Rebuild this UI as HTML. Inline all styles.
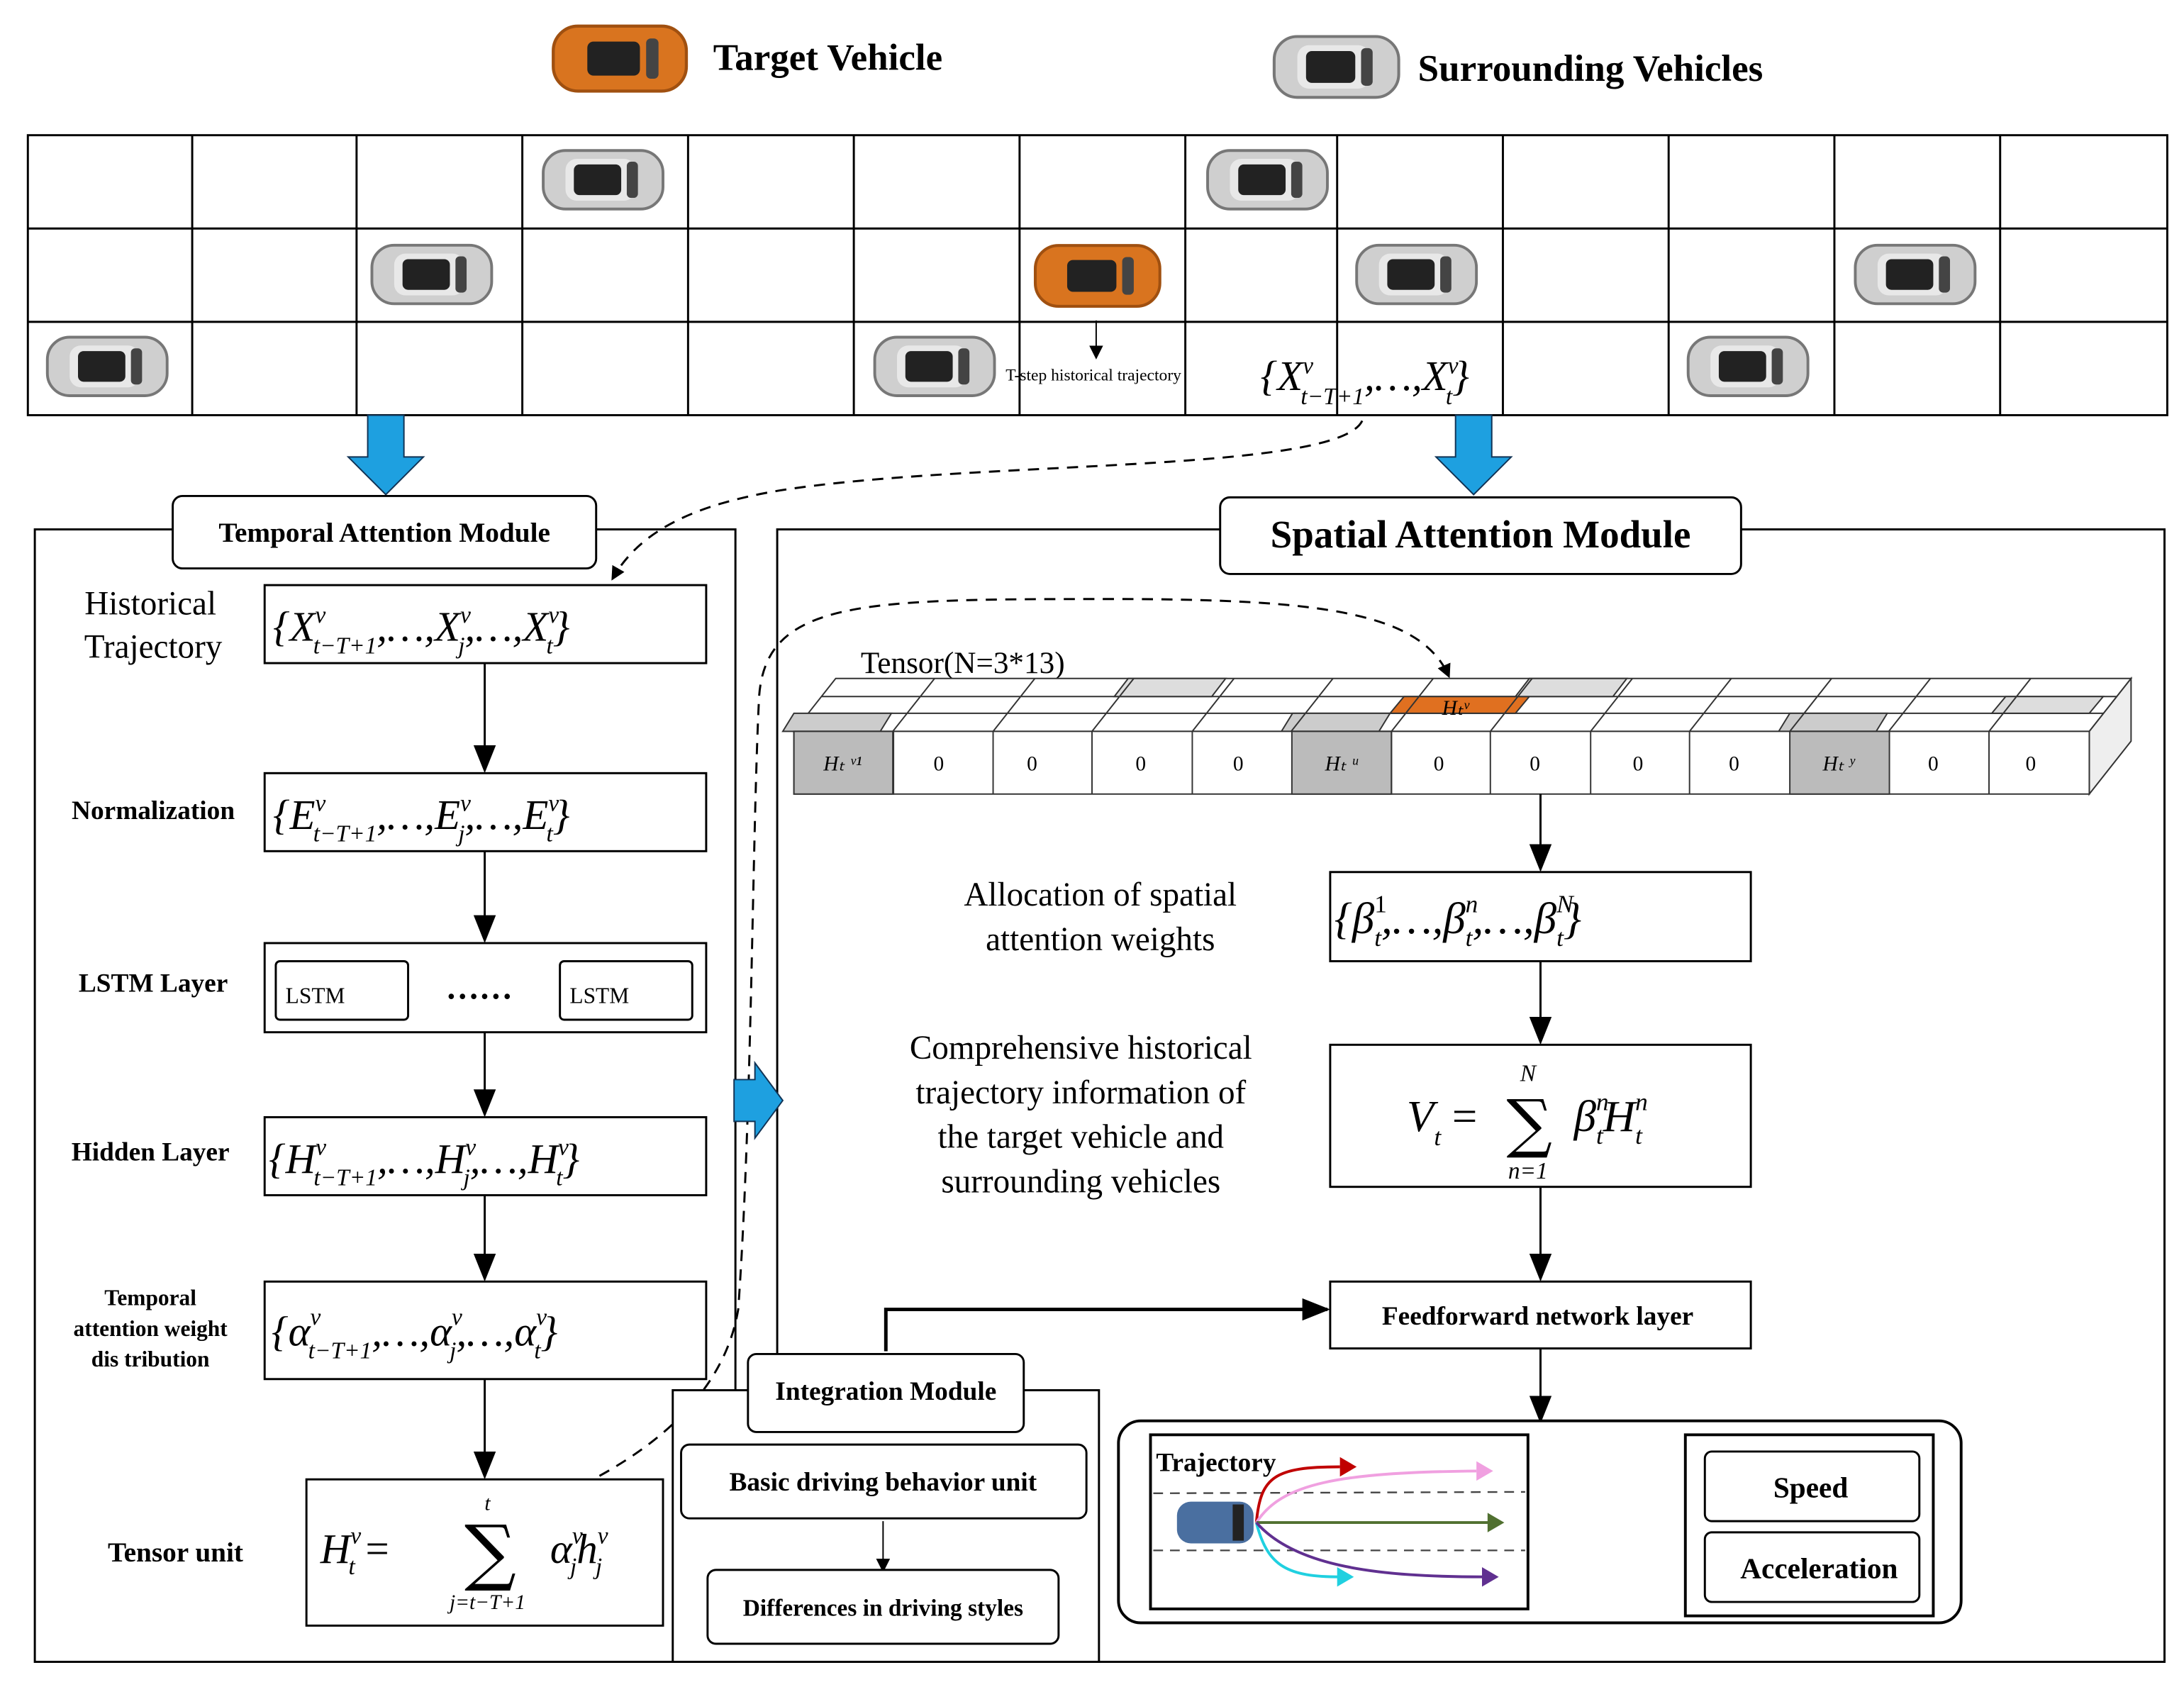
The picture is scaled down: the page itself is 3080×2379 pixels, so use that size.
<!DOCTYPE html>
<html><head><meta charset="utf-8"><style>html,body{margin:0;padding:0;background:#fff}svg{display:block}
.b{font-family:"Liberation Serif",serif;font-weight:bold}
.m{font-family:"Liberation Serif",serif;font-style:italic}
</style></head><body>
<svg width="3080" height="2379" viewBox="0 0 1568 1211" xmlns="http://www.w3.org/2000/svg">
<defs>
<symbol id="car" viewBox="0 0 90 50"><rect x="2" y="4" width="86" height="42" rx="16" fill="#cfcfcf" stroke="#777" stroke-width="2"/><rect x="18" y="10" width="50" height="30" rx="8" fill="#e8e8e8"/><rect x="24" y="14" width="34" height="22" rx="4" fill="#222"/><rect x="62" y="12" width="8" height="26" rx="3" fill="#444"/></symbol>
<symbol id="ocar" viewBox="0 0 90 50"><rect x="2" y="4" width="86" height="42" rx="16" fill="#d9741f" stroke="#a05010" stroke-width="2"/><rect x="24" y="14" width="34" height="22" rx="4" fill="#222"/><rect x="62" y="12" width="8" height="26" rx="3" fill="#444"/></symbol>
<marker id="ar" markerWidth="10" markerHeight="10" refX="8" refY="5" orient="auto" markerUnits="userSpaceOnUse"><path d="M0,0 L10,5 L0,10z" fill="#000"/></marker>
<marker id="arb" markerWidth="20" markerHeight="20" refX="18" refY="10" orient="auto" markerUnits="userSpaceOnUse"><path d="M0,2 L20,10 L0,18z" fill="#000"/></marker>
</defs>
<!-- legend -->
<use href="#ocar" x="395" y="14" width="100" height="56"/>
<text x="512" y="50" class="b" font-size="27">Target Vehicle</text>
<use href="#car" x="912" y="22" width="95" height="52"/>
<text x="1018" y="58" class="b" font-size="27">Surrounding Vehicles</text>
<!-- grid -->
<g stroke="#000" stroke-width="1.5" fill="none">
<rect x="20" y="97" width="1536" height="201"/>
<line x1="20" y1="164" x2="1556" y2="164"/><line x1="20" y1="231" x2="1556" y2="231"/>
<line x1="138" y1="97" x2="138" y2="298"/><line x1="256" y1="97" x2="256" y2="298"/><line x1="375" y1="97" x2="375" y2="298"/><line x1="494" y1="97" x2="494" y2="298"/><line x1="613" y1="97" x2="613" y2="298"/><line x1="732" y1="97" x2="732" y2="298"/><line x1="851" y1="97" x2="851" y2="298"/><line x1="960" y1="97" x2="960" y2="298"/><line x1="1079" y1="97" x2="1079" y2="298"/><line x1="1198" y1="97" x2="1198" y2="298"/><line x1="1317" y1="97" x2="1317" y2="298"/><line x1="1436" y1="97" x2="1436" y2="298"/>
</g>
<use href="#car" x="388" y="104" width="90" height="50"/>
<use href="#car" x="865" y="104" width="90" height="50"/>
<use href="#car" x="265" y="172" width="90" height="50"/>
<use href="#ocar" x="740" y="172" width="96" height="52"/>
<use href="#car" x="972" y="172" width="90" height="50"/>
<use href="#car" x="1330" y="172" width="90" height="50"/>
<use href="#car" x="32" y="238" width="90" height="50"/>
<use href="#car" x="626" y="238" width="90" height="50"/>
<use href="#car" x="1210" y="238" width="90" height="50"/>
<line x1="787" y1="230" x2="787" y2="256" stroke="#000" marker-end="url(#ar)"/>
<text x="722" y="273" font-family="Liberation Serif,serif" font-size="12">T-step historical trajectory</text>
<text x="905" y="280" class="m" font-size="30">{X<tspan font-size="17" dy="-12">v</tspan><tspan font-size="17" dx="-9" dy="22">t−T+1</tspan><tspan dy="-10">,…,X</tspan><tspan font-size="17" dy="-12">v</tspan><tspan font-size="17" dx="-9" dy="22">t</tspan><tspan dy="-10">}</tspan></text>
<!-- blue arrows -->
<path d="M264,298 h26 v30 h14 l-27,27 l-27,-27 h14z" fill="#1ea0e0" stroke="#135" stroke-width="1"/>
<path d="M1045,298 h26 v30 h14 l-27,27 l-27,-27 h14z" fill="#1ea0e0" stroke="#135" stroke-width="1"/>
<!-- module boxes -->
<g fill="none" stroke="#000" stroke-width="1.5">
<rect x="25" y="380" width="503" height="813"/>
<rect x="558" y="380" width="996" height="813"/>
</g>
<rect x="124" y="356" width="304" height="52" rx="7" fill="#fff" stroke="#000" stroke-width="1.5"/>
<text x="276" y="389" class="b" font-size="20" text-anchor="middle">Temporal Attention Module</text>
<rect x="876" y="357" width="374" height="55" rx="7" fill="#fff" stroke="#000" stroke-width="1.5"/>
<text x="1063" y="393" class="b" font-size="28" text-anchor="middle">Spatial Attention Module</text>
<!-- dashed curves -->
<path d="M978,302 C960,340 700,330 560,352 C500,362 460,380 440,415" fill="none" stroke="#000" stroke-width="1.5" stroke-dasharray="8,6" marker-end="url(#ar)"/>
<path d="M418,1066 C470,1040 520,1000 530,940 C540,800 540,600 545,500 C550,430 620,430 800,430 C950,430 1020,440 1040,485" fill="none" stroke="#000" stroke-width="1.5" stroke-dasharray="8,6" marker-end="url(#ar)"/>
<!-- left column -->
<g class="b" font-size="22"><text x="108" y="441" text-anchor="middle" font-weight="normal" font-size="24">Historical</text><text x="110" y="472" text-anchor="middle" font-weight="normal" font-size="24">Trajectory</text>
<text x="110" y="588" text-anchor="middle" font-size="19">Normalization</text>
<text x="110" y="712" text-anchor="middle" font-size="19">LSTM Layer</text>
<text x="108" y="833" text-anchor="middle" font-size="19">Hidden Layer</text>
<text x="108" y="937" text-anchor="middle" font-size="16">Temporal</text><text x="108" y="959" text-anchor="middle" font-size="16">attention weight</text><text x="108" y="981" text-anchor="middle" font-size="16">dis tribution</text>
<text x="126" y="1121" text-anchor="middle" font-size="20">Tensor unit</text></g>
<g fill="#fff" stroke="#000" stroke-width="1.5">
<rect x="190" y="420" width="317" height="56"/>
<rect x="190" y="555" width="317" height="56"/>
<rect x="190" y="677" width="317" height="64"/>
<rect x="190" y="802" width="317" height="56"/>
<rect x="190" y="920" width="317" height="70"/>
<rect x="220" y="1062" width="256" height="105"/>
<rect x="198" y="690" width="95" height="42" rx="3"/>
<rect x="402" y="690" width="95" height="42" rx="3"/>
</g>
<g class="m" font-size="30">
<text x="196" y="460">{X<tspan font-size="17" dy="-13">v</tspan><tspan font-size="17" dx="-9" dy="22">t−T+1</tspan><tspan dy="-9">,…,X</tspan><tspan font-size="17" dy="-13">v</tspan><tspan font-size="17" dx="-9" dy="22">j</tspan><tspan dy="-9">,…,X</tspan><tspan font-size="17" dy="-13">v</tspan><tspan font-size="17" dx="-9" dy="22">t</tspan><tspan dy="-9">}</tspan></text>
<text x="196" y="595">{E<tspan font-size="17" dy="-13">v</tspan><tspan font-size="17" dx="-9" dy="22">t−T+1</tspan><tspan dy="-9">,…,E</tspan><tspan font-size="17" dy="-13">v</tspan><tspan font-size="17" dx="-9" dy="22">j</tspan><tspan dy="-9">,…,E</tspan><tspan font-size="17" dy="-13">v</tspan><tspan font-size="17" dx="-9" dy="22">t</tspan><tspan dy="-9">}</tspan></text>
<text x="193" y="842">{H<tspan font-size="17" dy="-13">v</tspan><tspan font-size="17" dx="-9" dy="22">t−T+1</tspan><tspan dy="-9">,…,H</tspan><tspan font-size="17" dy="-13">v</tspan><tspan font-size="17" dx="-9" dy="22">j</tspan><tspan dy="-9">,…,H</tspan><tspan font-size="17" dy="-13">v</tspan><tspan font-size="17" dx="-9" dy="22">t</tspan><tspan dy="-9">}</tspan></text>
<text x="195" y="966">{α<tspan font-size="17" dy="-15">v</tspan><tspan font-size="17" dx="-9" dy="24">t−T+1</tspan><tspan dy="-9">,…,α</tspan><tspan font-size="17" dy="-15">v</tspan><tspan font-size="17" dx="-9" dy="24">j</tspan><tspan dy="-9">,…,α</tspan><tspan font-size="17" dy="-15">v</tspan><tspan font-size="17" dx="-9" dy="24">t</tspan><tspan dy="-9">}</tspan></text>
<text x="230" y="1122">H<tspan font-size="17" dy="-14">v</tspan><tspan font-size="17" dx="-9" dy="22">t</tspan><tspan dy="-8" font-style="normal"> = </tspan></text>
<text x="350" y="1084" font-size="15" text-anchor="middle">t</text>
<text x="350" y="1155" font-size="15" text-anchor="middle">j=t−T+1</text>
<text x="395" y="1122">α<tspan font-size="17" dy="-14">v</tspan><tspan font-size="17" dx="-9" dy="22">j</tspan><tspan dy="-8">h</tspan><tspan font-size="17" dy="-14">v</tspan><tspan font-size="17" dx="-9" dy="22">j</tspan></text>
</g>
<text x="352" y="1132" font-family="DejaVu Serif,serif" font-size="52" text-anchor="middle">∑</text>
<text x="205" y="720" font-family="Liberation Serif,serif" font-size="16">LSTM</text>
<text x="409" y="720" font-family="Liberation Serif,serif" font-size="16">LSTM</text>
<text x="344" y="717" class="b" font-size="24" text-anchor="middle">……</text>
<g stroke="#000" stroke-width="1.5">
<line x1="348" y1="476" x2="348" y2="553" marker-end="url(#arb)"/>
<line x1="348" y1="611" x2="348" y2="675" marker-end="url(#arb)"/>
<line x1="348" y1="741" x2="348" y2="800" marker-end="url(#arb)"/>
<line x1="348" y1="858" x2="348" y2="918" marker-end="url(#arb)"/>
<line x1="348" y1="990" x2="348" y2="1060" marker-end="url(#arb)"/>
</g>
<!-- center blue arrow -->
<path d="M527,775 h15 v-12 l20,27 l-20,27 v-12 h-15z" fill="#1ea0e0" stroke="#135" stroke-width="1"/>
<!-- tensor -->
<text x="618" y="483" font-family="Liberation Serif,serif" font-size="22">Tensor(N=3*13)</text>
<g stroke="#333" stroke-width="1" fill="#fff">
<path d="M570,525 L600,487 L1530,487 L1500,525z"/>
<path d="M1500,525 L1530,487 L1530,532 L1500,570z" fill="#eee"/>
<line x1="590" y1="500" x2="1520" y2="500"/><line x1="580" y1="512" x2="1510" y2="512"/>
<path d="M1008,500 L1098,500 L1088,512 L998,512z" fill="#e07020"/>
<path d="M570,512 L640,512 L632,525 L562,525z" fill="#ccc"/>
<path d="M928,512 L998,512 L990,525 L920,525z" fill="#ccc"/>
<path d="M1285,512 L1355,512 L1347,525 L1277,525z" fill="#ccc"/>
<path d="M810,487 L880,487 L870,500 L800,500z" fill="#ddd"/>
<path d="M1098,487 L1168,487 L1158,500 L1088,500z" fill="#ddd"/>
<path d="M1440,500 L1510,500 L1500,512 L1430,512z" fill="#ddd"/>
<rect x="570" y="525" width="930" height="45"/>
<rect x="570" y="525" width="71.5" height="45" fill="#bbb"/>
<rect x="927.5" y="525" width="71.5" height="45" fill="#bbb"/>
<rect x="1285" y="525" width="71.5" height="45" fill="#bbb"/>
</g>
<g stroke="#333" stroke-width="1">
<line x1="641" y1="525" x2="641" y2="570"/><line x1="713" y1="525" x2="713" y2="570"/><line x1="784" y1="525" x2="784" y2="570"/><line x1="856" y1="525" x2="856" y2="570"/><line x1="999" y1="525" x2="999" y2="570"/><line x1="1070" y1="525" x2="1070" y2="570"/><line x1="1142" y1="525" x2="1142" y2="570"/><line x1="1213" y1="525" x2="1213" y2="570"/><line x1="1428" y1="525" x2="1428" y2="570"/>
<line x1="641" y1="525" x2="671" y2="487"/><line x1="713" y1="525" x2="743" y2="487"/><line x1="784" y1="525" x2="814" y2="487"/><line x1="856" y1="525" x2="886" y2="487"/><line x1="927" y1="525" x2="957" y2="487"/><line x1="999" y1="525" x2="1029" y2="487"/><line x1="1070" y1="525" x2="1100" y2="487"/><line x1="1142" y1="525" x2="1172" y2="487"/><line x1="1213" y1="525" x2="1243" y2="487"/><line x1="1285" y1="525" x2="1315" y2="487"/><line x1="1356" y1="525" x2="1386" y2="487"/><line x1="1428" y1="525" x2="1458" y2="487"/>
</g>
<g font-family="Liberation Serif,serif" font-size="15" text-anchor="middle">
<text x="674" y="553">0</text><text x="741" y="553">0</text><text x="819" y="553">0</text><text x="889" y="553">0</text><text x="1033" y="553">0</text><text x="1102" y="553">0</text><text x="1176" y="553">0</text><text x="1245" y="553">0</text><text x="1388" y="553">0</text><text x="1458" y="553">0</text>
<text x="605" y="553" font-style="italic">Hₜ ᵛ¹</text><text x="963" y="553" font-style="italic">Hₜ ᵘ</text><text x="1320" y="553" font-style="italic">Hₜ ʸ</text><text x="1045" y="513" font-style="italic">Hₜᵛ</text>
</g>
<!-- right column -->
<line x1="1106" y1="570" x2="1106" y2="624" stroke="#000" stroke-width="1.5" marker-end="url(#arb)"/>
<g font-family="Liberation Serif,serif" font-size="24" text-anchor="middle">
<text x="790" y="650">Allocation of spatial</text><text x="790" y="682">attention weights</text>
<text x="776" y="760">Comprehensive historical</text><text x="776" y="792">trajectory information of</text><text x="776" y="824">the target vehicle and</text><text x="776" y="856">surrounding vehicles</text>
</g>
<g fill="#fff" stroke="#000" stroke-width="1.5">
<rect x="955" y="626" width="302" height="64"/>
<rect x="955" y="750" width="302" height="102"/>
<rect x="955" y="920" width="302" height="48"/>
</g>
<g class="m" font-size="32">
<text x="958" y="670">{β<tspan font-size="18" dy="-15" font-style="normal">1</tspan><tspan font-size="18" dx="-9" dy="24">t</tspan><tspan dy="-9">,…,β</tspan><tspan font-size="18" dy="-15">n</tspan><tspan font-size="18" dx="-9" dy="24">t</tspan><tspan dy="-9">,…,β</tspan><tspan font-size="18" dy="-15">N</tspan><tspan font-size="18" dx="-12" dy="24">t</tspan><tspan dy="-9">}</tspan></text>
<text x="1010" y="812">V<tspan font-size="18" dy="10">t</tspan><tspan dy="-10" font-style="normal"> = </tspan></text>
<text x="1130" y="812">β<tspan font-size="18" dy="-15">n</tspan><tspan font-size="18" dx="-9" dy="24">t</tspan><tspan dy="-9">H</tspan><tspan font-size="18" dy="-15">n</tspan><tspan font-size="18" dx="-9" dy="24">t</tspan></text>
<text x="1097" y="776" font-size="17" text-anchor="middle">N</text>
<text x="1097" y="846" font-size="17" text-anchor="middle">n=1</text>
</g>
<text x="1098" y="822" font-family="DejaVu Serif,serif" font-size="46" text-anchor="middle">∑</text>
<text x="1104" y="951" class="b" font-size="19" text-anchor="middle">Feedforward network layer</text>
<g stroke="#000" stroke-width="1.5">
<line x1="1106" y1="690" x2="1106" y2="748" marker-end="url(#arb)"/>
<line x1="1106" y1="852" x2="1106" y2="918" marker-end="url(#arb)"/>
<line x1="1106" y1="968" x2="1106" y2="1020" marker-end="url(#arb)"/>
<polyline points="636,970 636,940 953,940" fill="none" stroke-width="2.5" marker-end="url(#arb)"/>
</g>
<!-- integration -->
<rect x="483" y="998" width="306" height="195" fill="#fff" stroke="#000" stroke-width="1.5"/>
<rect x="537" y="972" width="198" height="56" rx="6" fill="#fff" stroke="#000" stroke-width="1.5"/>
<text x="636" y="1005" class="b" font-size="19" text-anchor="middle">Integration Module</text>
<rect x="489" y="1037" width="291" height="53" rx="6" fill="#fff" stroke="#000" stroke-width="1.5"/>
<text x="634" y="1070" class="b" font-size="19" text-anchor="middle">Basic driving behavior unit</text>
<line x1="634" y1="1092" x2="634" y2="1127" stroke="#000" marker-end="url(#ar)"/>
<rect x="508" y="1127" width="252" height="53" rx="6" fill="#fff" stroke="#000" stroke-width="1.5"/>
<text x="634" y="1160" class="b" font-size="17" text-anchor="middle">Differences in driving styles</text>
<!-- output -->
<rect x="803" y="1020" width="605" height="145" rx="16" fill="#fff" stroke="#000" stroke-width="2"/>
<rect x="826" y="1030" width="271" height="125" fill="#fff" stroke="#000" stroke-width="2"/>
<text x="830" y="1056" class="b" font-size="19">Trajectory</text>
<g stroke-width="1.2" stroke-dasharray="7,5" stroke="#444"><line x1="828" y1="1072" x2="1095" y2="1071"/><line x1="828" y1="1113" x2="1095" y2="1113"/></g>
<rect x="845" y="1078" width="55" height="30" rx="10" fill="#4a6fa0"/>
<rect x="885" y="1080" width="8" height="26" fill="#222"/>
<g fill="none" stroke-width="2">
<path d="M902,1093 C905,1060 915,1053 962,1053" stroke="#c00000"/>
<path d="M902,1093 C920,1065 960,1057 1060,1056" stroke="#f0a0e0"/>
<path d="M902,1093 L1072,1093" stroke="#507030"/>
<path d="M902,1093 C910,1125 925,1132 962,1132" stroke="#20d0e0"/>
<path d="M902,1093 C930,1125 990,1132 1066,1132" stroke="#603090"/>
</g>
<path d="M962,1046 l12,7 l-12,7z" fill="#c00000"/><path d="M1060,1049 l12,7 l-12,7z" fill="#f0a0e0"/><path d="M1068,1086 l12,7 l-12,7z" fill="#507030"/><path d="M960,1125 l12,7 l-12,7z" fill="#20d0e0"/><path d="M1064,1125 l12,7 l-12,7z" fill="#603090"/>
<rect x="1210" y="1030" width="178" height="130" fill="#fff" stroke="#000" stroke-width="2"/>
<rect x="1224" y="1042" width="154" height="50" rx="5" fill="#fff" stroke="#000" stroke-width="1.5"/>
<rect x="1224" y="1100" width="154" height="50" rx="5" fill="#fff" stroke="#000" stroke-width="1.5"/>
<text x="1300" y="1075" class="b" font-size="21" text-anchor="middle">Speed</text>
<text x="1306" y="1133" class="b" font-size="21" text-anchor="middle">Acceleration</text>
</svg>
</body></html>
